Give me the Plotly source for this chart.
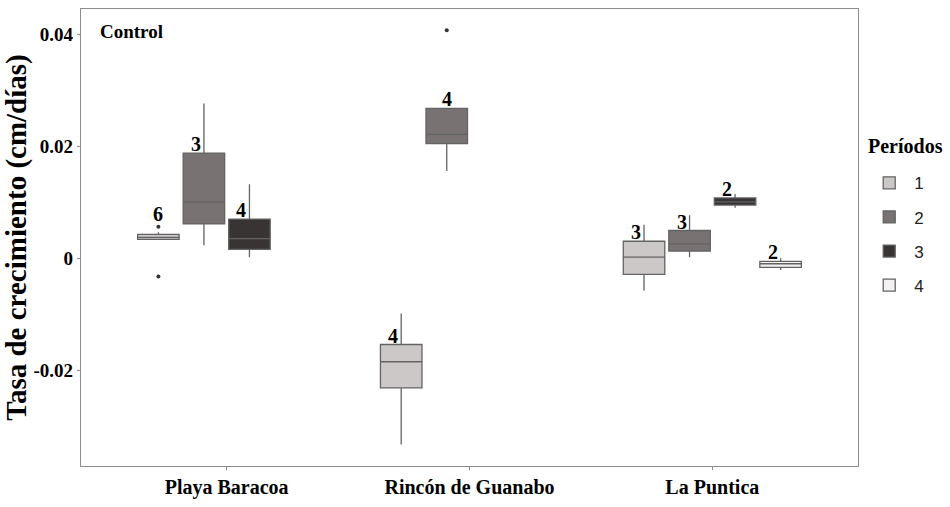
import plotly.graph_objects as go

# ---------------- data ----------------
sites = ["Playa Baracoa", "Rincón de Guanabo", "La Puntica"]
periods = ["1", "2", "3", "4"]

# per period: site index, q1, median, q3, lower whisker, upper whisker, n
p1_site = [0, 1, 2]
p1_q1 = [0.00337, -0.02318, -0.00292]
p1_med = [0.00370, -0.01852, 0.00017]
p1_q3 = [0.00424, -0.01544, 0.00302]
p1_lo = [0.00337, -0.03331, -0.00583]
p1_hi = [0.00465, -0.00990, 0.00599]
p1_n = [6, 4, 3]

p2_site = [0, 1, 2]
p2_q1 = [0.00611, 0.02049, 0.00128]
p2_med = [0.01006, 0.02211, 0.00255]
p2_q3 = [0.01879, 0.02678, 0.00494]
p2_lo = [0.00232, 0.01560, 0.00017]
p2_hi = [0.02765, 0.02678, 0.00769]
p2_n = [3, 4, 3]

p3_site = [0, 2]
p3_q1 = [0.00157, 0.00948]
p3_med = [0.00349, 0.01006]
p3_q3 = [0.00699, 0.01076]
p3_lo = [0.00017, 0.00901]
p3_hi = [0.01321, 0.01146]
p3_n = [4, 2]

p4_site = [2]
p4_q1 = [-0.00164]
p4_med = [-0.00100]
p4_q3 = [-0.00059]
p4_lo = [-0.00210]
p4_hi = [0.00000]
p4_n = [2]

# outliers: period, site index, value
out_period = [1, 1, 2]
out_site = [0, 0, 1]
out_value = [0.00559, -0.00328, 0.04075]

y_ticks = [-0.02, 0, 0.02, 0.04]
y_ticklabels = ["-0.02", "0", "0.02", "0.04"]

# ---------------- style ----------------
fills = ["#CDC8C8", "#797272", "#383434", "#F3F1F1"]
line_col = "#636363"
serif = "Liberation Serif"
dodge = 0.75
n_slots = 4
box_w = 0.171


def pos(site, period):
    return (site + 1) + dodge * ((period - 0.5) / n_slots - 0.5)


groups = [
    (p1_site, p1_q1, p1_med, p1_q3, p1_lo, p1_hi, p1_n),
    (p2_site, p2_q1, p2_med, p2_q3, p2_lo, p2_hi, p2_n),
    (p3_site, p3_q1, p3_med, p3_q3, p3_lo, p3_hi, p3_n),
    (p4_site, p4_q1, p4_med, p4_q3, p4_lo, p4_hi, p4_n),
]

fig = go.Figure()
annotations = []
for k, (s, q1, med, q3, lo, hi, nn) in enumerate(groups):
    per = k + 1
    xs = [pos(si, per) for si in s]
    fig.add_trace(go.Box(
        name=periods[k], legendgroup=periods[k], x=xs, q1=q1, median=med, q3=q3,
        lowerfence=lo, upperfence=hi,
        width=box_w, whiskerwidth=0,
        fillcolor=fills[k], line=dict(color=line_col, width=1.3),
        boxpoints=False, hoverinfo="skip",
    ))
    for i, si in enumerate(s):
        anchor = q3[i]
        on_outlier = False
        for op, os_, ov in zip(out_period, out_site, out_value):
            if op == per and os_ == si and q3[i] < ov < q3[i] + 0.005:
                anchor = max(anchor, ov)
                on_outlier = True
        shift = -8 if hi[i] > anchor + 1e-6 else 0
        annotations.append(dict(
            x=xs[i], y=anchor, xref="x", yref="y", text=str(nn[i]),
            showarrow=False, yanchor="bottom", xanchor="center",
            xshift=shift, yshift=(0 if on_outlier else -4),
            font=dict(family=serif, size=20, color="black", weight="bold"),
        ))

fig.add_trace(go.Scatter(
    x=[pos(s, p) for p, s in zip(out_period, out_site)], y=out_value,
    mode="markers", marker=dict(color="#333333", size=4),
    showlegend=False, hoverinfo="skip",
))

annotations.append(dict(
    x=0.022, y=0.978, xref="paper", yref="paper", text="Control",
    showarrow=False, xanchor="left", yanchor="top",
    font=dict(family=serif, size=19, color="black", weight="bold"),
))
annotations.append(dict(
    x=1.0103, y=0.7009, xref="paper", yref="paper", text="Períodos",
    showarrow=False, xanchor="left", yanchor="middle",
    font=dict(family=serif, size=20, color="black", weight="bold"),
))

axis_common = dict(showline=True, linecolor="#8c8c8c", linewidth=1.2, mirror=True,
                   showgrid=False, zeroline=False, ticks="outside", ticklen=3,
                   tickcolor="#8c8c8c")

fig.update_layout(
    width=950, height=507,
    margin=dict(l=79, r=92, t=8, b=31),
    paper_bgcolor="white", plot_bgcolor="white",
    boxmode="overlay",
    xaxis=dict(range=[0.4, 3.6], tickvals=[1, 2, 3], ticktext=sites,
               tickfont=dict(family=serif, size=20, color="black", weight="bold"),
               **axis_common),
    yaxis=dict(range=[-0.03716, 0.04454], tickvals=y_ticks, ticktext=y_ticklabels,
               tickfont=dict(family=serif, size=19, color="black", weight="bold"),
               title=dict(text="Tasa de crecimiento (cm/días)", standoff=5,
                          font=dict(family=serif, size=29, color="black", weight="bold")),
               **axis_common),
    legend=dict(
        x=1.008, y=0.658, xanchor="left", yanchor="top",
        font=dict(family="Liberation Sans", size=17, color="#222222"),
        tracegroupgap=9, itemwidth=40,
    ),
    annotations=annotations,
)

fig.write_html("out.html")
